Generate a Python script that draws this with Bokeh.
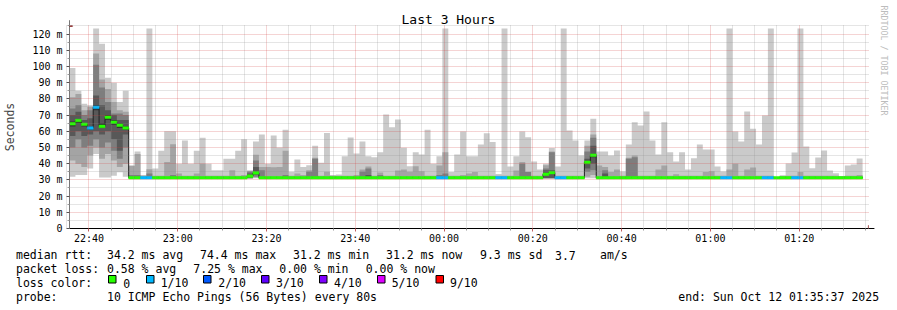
from datetime import datetime, timedelta
from bokeh.plotting import figure
from bokeh.models import ColumnDataSource, FixedTicker, Arrow, NormalHead, Range1d, Title
from bokeh.layouts import column
from bokeh.embed import file_html
from bokeh.resources import INLINE
from bokeh.core.properties import value

# ---------------- data ----------------
TITLE = "Last 3 Hours"
START = "2025-10-11 22:35:37"
STEP_SECONDS = 80
WATERMARK = "RRDTOOL / TOBI OETIKER"

x_tick_labels = ["22:40", "23:00", "23:20", "23:40", "00:00", "00:20", "00:40", "01:00", "01:20"]
y_tick_values = [0, 10, 20, 30, 40, 50, 60, 70, 80, 90, 100, 110, 120]
y_tick_labels = ["0", "10 m", "20 m", "30 m", "40 m", "50 m", "60 m", "70 m", "80 m", "90 m", "100 m", "110 m", "120 m"]

# sorted ping round-trip times (ms) per 80 s step, ping_1 = fastest, ping_10 = slowest
ping_10 = [99, 85, 77, 76, 123.4, 114, 93, 90, 78, 85,
           39, 47.5, 33, 123.4, 37, 48, 60, 60, 40, 54.3,
           40, 48, 56, 40, 36, 36, 43, 43, 48, 55,
           36, 53.7, 58, 40, 57.4, 50, 61, 35, 42.6, 38,
           39, 51, 40.5, 59, 33, 33.3, 44.6, 56.1, 46.2, 53.7,
           44.6, 44, 47.1, 70.3, 62.5, 67.3, 49.8, 38.4, 47.1, 45.6,
           61, 39.9, 44.6, 123.4, 34.8, 45.6, 59.8, 44.6, 44.6, 51.8,
           58.8, 53.3, 33.7, 123.4, 38.2, 44.6, 59.8, 56.3, 41.3, 36.4,
           40, 49.6, 38.2, 123.4, 60.5, 54.3, 45, 54.3, 67.7, 47.5,
           47.5, 45, 48.1, 35.2, 51.8, 65.6, 63.5, 72.2, 54.3, 45.6,
           65.6, 47.1, 41.3, 47.1, 36.4, 43.4, 51.8, 48.7, 48.7, 38.2,
           35.2, 123.4, 59.8, 53.7, 72.2, 61.5, 51.8, 69.7, 123.4, 31.8,
           32.7, 40.1, 46.9, 123.4, 50.6, 37.2, 43.8, 48.1, 35.8, 34.1,
           32.3, 38.9, 39.5, 43.2]
ping_9 = [81, 83, 73, 75, 108, 92, 86, 78, 73, 72,
          38.5, 46, 32.5, 36.5, 32.5, 32.5, 41, 52, 34, 32.5,
          32.5, 34, 40, 32.5, 32.5, 32.5, 32.5, 36, 32.5, 33,
          35.5, 45.5, 38, 38, 37.8, 38, 48, 32.5, 34, 33,
          36, 43.6, 32.5, 35, 32.5, 32.5, 32.5, 32.5, 33, 36.4,
          38.2, 32.5, 34.5, 32.5, 32.5, 35.8, 36.4, 35, 38.4, 35.4,
          32.5, 32.5, 38.9, 47.1, 32.5, 32.5, 33, 34, 34.8, 32.5,
          32.5, 32.5, 32.5, 32.5, 32.5, 35.8, 41, 35, 32.5, 32.5,
          39, 47.5, 32.5, 32.5, 32.5, 32.5, 32.5, 51, 58, 38.9,
          38, 34.8, 36.4, 32.5, 43.6, 45, 32.5, 32.5, 32.5, 36.4,
          38.9, 32.5, 33.5, 32.5, 32.5, 32.5, 32.5, 34.8, 35.4, 32.5,
          32.5, 36.4, 39.9, 32.5, 36.4, 37.6, 32.5, 32.5, 32.5, 31.7,
          32.5, 32.5, 32.5, 34.8, 32.5, 32.5, 32.5, 32.5, 32.5, 32.5,
          32.3, 32.5, 32.5, 33]
ping_8 = [74, 76, 70, 73, 101, 87, 78, 71, 71, 70,
          33, 33, 32, 34, 32, 32, 32, 33, 32, 32,
          32, 32, 32, 32, 32, 32, 32, 32, 32, 32,
          35, 42, 36, 32, 32, 32, 33, 32, 32, 32,
          35, 43, 32, 32, 32, 32, 32, 32, 32, 35,
          37, 32, 33, 32, 32, 32, 32, 32, 32, 32,
          32, 32, 33, 34, 32, 32, 32, 32, 32, 32,
          32, 32, 32, 32, 32, 32, 40, 34.8, 32, 32,
          37, 47, 32, 32, 32, 32, 32, 47.5, 56, 32,
          36, 32, 32, 32, 43, 44, 32, 32, 32, 32,
          32, 32, 32, 32, 32, 32, 32, 32, 32, 32,
          32, 32, 32, 32, 32, 32, 32, 32, 32, 31.6,
          32, 32, 32, 32, 32, 32, 32, 32, 32, 32,
          32, 32, 32, 32]
ping_7 = [70, 72, 67, 68, 82, 76, 73, 70, 67, 67,
          31.6, 31.6, 31.6, 31.6, 31.6, 31.6, 31.6, 31.6, 31.6, 31.6,
          31.6, 31.6, 31.6, 31.6, 31.6, 31.6, 31.6, 31.6, 31.6, 31.6,
          34, 38, 31.6, 31.6, 31.6, 31.6, 31.6, 31.6, 31.6, 31.6,
          31.6, 31.6, 31.6, 31.6, 31.6, 31.6, 31.6, 31.6, 31.6, 31.6,
          33, 31.6, 31.6, 31.6, 31.6, 31.6, 31.6, 31.6, 31.6, 31.6,
          31.6, 31.6, 31.6, 31.6, 31.6, 31.6, 31.6, 31.6, 31.6, 31.6,
          31.6, 31.6, 31.6, 31.6, 31.6, 31.6, 31.6, 31.6, 31.6, 31.6,
          36, 36, 31.6, 31.6, 31.6, 31.6, 31.6, 43, 51, 31.6,
          34, 31.6, 31.6, 31.6, 31.6, 31.6, 31.6, 31.6, 31.6, 31.6,
          31.6, 31.6, 31.6, 31.6, 31.6, 31.6, 31.6, 31.6, 31.6, 31.6,
          31.6, 31.6, 31.6, 31.6, 31.6, 31.6, 31.6, 31.6, 31.6, 31.6,
          31.6, 31.6, 31.6, 31.6, 31.6, 31.6, 31.6, 31.6, 31.6, 31.6,
          31.6, 31.6, 31.6, 31.6]
ping_6 = [66, 67, 65, 63, 76, 65, 70, 67, 65, 63,
          31.4, 31.4, 31.4, 31.4, 31.4, 31.4, 31.4, 31.4, 31.4, 31.4,
          31.4, 31.4, 31.4, 31.4, 31.4, 31.4, 31.4, 31.4, 31.4, 31.4,
          33, 35, 31.4, 31.4, 31.4, 31.4, 31.4, 31.4, 31.4, 31.4,
          31.4, 31.4, 31.4, 31.4, 31.4, 31.4, 31.4, 31.4, 31.4, 31.4,
          31.4, 31.4, 31.4, 31.4, 31.4, 31.4, 31.4, 31.4, 31.4, 31.4,
          31.4, 31.4, 31.4, 31.4, 31.4, 31.4, 31.4, 31.4, 31.4, 31.4,
          31.4, 31.4, 31.4, 31.4, 31.4, 31.4, 31.4, 31.4, 31.4, 31.4,
          34, 35, 31.4, 31.4, 31.4, 31.4, 31.4, 41, 46, 31.4,
          31.4, 31.4, 31.4, 31.4, 31.4, 31.4, 31.4, 31.4, 31.4, 31.4,
          31.4, 31.4, 31.4, 31.4, 31.4, 31.4, 31.4, 31.4, 31.4, 31.4,
          31.4, 31.4, 31.4, 31.4, 31.4, 31.4, 31.4, 31.4, 31.4, 31.4,
          31.4, 31.4, 31.4, 31.4, 31.4, 31.4, 31.4, 31.4, 31.4, 31.4,
          31.4, 31.4, 31.4, 31.4]
ping_5 = [63, 65, 63, 61, 73, 62, 67, 64, 62, 61,
          31.2, 31.2, 31.2, 31.2, 31.2, 31.2, 31.2, 31.2, 31.2, 31.2,
          31.2, 31.2, 31.2, 31.2, 31.2, 31.2, 31.2, 31.2, 31.2, 31.2,
          32.2, 34, 31.2, 31.2, 31.2, 31.2, 31.2, 31.2, 31.2, 31.2,
          31.2, 31.2, 31.2, 31.2, 31.2, 31.2, 31.2, 31.2, 31.2, 31.2,
          31.2, 31.2, 31.2, 31.2, 31.2, 31.2, 31.2, 31.2, 31.2, 31.2,
          31.2, 31.2, 31.2, 31.2, 31.2, 31.2, 31.2, 31.2, 31.2, 31.2,
          31.2, 31.2, 31.2, 31.2, 31.2, 31.2, 31.2, 31.2, 31.2, 31.2,
          33, 34, 31.2, 31.2, 31.2, 31.2, 31.2, 40, 44, 31.2,
          31.2, 31.2, 31.2, 31.2, 31.2, 31.2, 31.2, 31.2, 31.2, 31.2,
          31.2, 31.2, 31.2, 31.2, 31.2, 31.2, 31.2, 31.2, 31.2, 31.2,
          31.2, 31.2, 31.2, 31.2, 31.2, 31.2, 31.2, 31.2, 31.2, 31.2,
          31.2, 31.2, 31.2, 31.2, 31.2, 31.2, 31.2, 31.2, 31.2, 31.2,
          31.2, 31.2, 31.2, 31.2]
ping_4 = [57, 60, 57, 58, 60, 58, 60, 55, 48, 58,
          31.1, 31.1, 31.1, 31.1, 31.1, 31.1, 31.1, 31.1, 31.1, 31.1,
          31.1, 31.1, 31.1, 31.1, 31.1, 31.1, 31.1, 31.1, 31.1, 31.1,
          31.1, 33, 31.1, 31.1, 31.1, 31.1, 31.1, 31.1, 31.1, 31.1,
          31.1, 31.1, 31.1, 31.1, 31.1, 31.1, 31.1, 31.1, 31.1, 31.1,
          31.1, 31.1, 31.1, 31.1, 31.1, 31.1, 31.1, 31.1, 31.1, 31.1,
          31.1, 31.1, 31.1, 31.1, 31.1, 31.1, 31.1, 31.1, 31.1, 31.1,
          31.1, 31.1, 31.1, 31.1, 31.1, 31.1, 31.1, 31.1, 31.1, 31.1,
          31.1, 31.1, 31.1, 31.1, 31.1, 31.1, 31.1, 37, 40, 31.1,
          31.1, 31.1, 31.1, 31.1, 31.1, 31.1, 31.1, 31.1, 31.1, 31.1,
          31.1, 31.1, 31.1, 31.1, 31.1, 31.1, 31.1, 31.1, 31.1, 31.1,
          31.1, 31.1, 31.1, 31.1, 31.1, 31.1, 31.1, 31.1, 31.1, 31.1,
          31.1, 31.1, 31.1, 31.1, 31.1, 31.1, 31.1, 31.1, 31.1, 31.1,
          31.1, 31.1, 31.1, 31.1]
ping_3 = [50, 55, 50, 51, 55, 50, 53, 48, 43, 50,
          31.0, 31.0, 31.0, 31.0, 31.0, 31.0, 31.0, 31.0, 31.0, 31.0,
          31.0, 31.0, 31.0, 31.0, 31.0, 31.0, 31.0, 31.0, 31.0, 31.0,
          31.0, 32, 31.0, 31.0, 31.0, 31.0, 31.0, 31.0, 31.0, 31.0,
          31.0, 31.0, 31.0, 31.0, 31.0, 31.0, 31.0, 31.0, 31.0, 31.0,
          31.0, 31.0, 31.0, 31.0, 31.0, 31.0, 31.0, 31.0, 31.0, 31.0,
          31.0, 31.0, 31.0, 31.0, 31.0, 31.0, 31.0, 31.0, 31.0, 31.0,
          31.0, 31.0, 31.0, 31.0, 31.0, 31.0, 31.0, 31.0, 31.0, 31.0,
          31.0, 31.0, 31.0, 31.0, 31.0, 31.0, 31.0, 35, 36, 31.0,
          31.0, 31.0, 31.0, 31.0, 31.0, 31.0, 31.0, 31.0, 31.0, 31.0,
          31.0, 31.0, 31.0, 31.0, 31.0, 31.0, 31.0, 31.0, 31.0, 31.0,
          31.0, 31.0, 31.0, 31.0, 31.0, 31.0, 31.0, 31.0, 31.0, 31.0,
          31.0, 31.0, 31.0, 31.0, 31.0, 31.0, 31.0, 31.0, 31.0, 31.0,
          31.0, 31.0, 31.0, 31.0]
ping_2 = [42, 40, 38, 45, 50, 43, 46, 42, 38, 40,
          30.9, 30.9, 30.9, 30.9, 30.9, 30.9, 30.9, 30.9, 30.9, 30.9,
          30.9, 30.9, 30.9, 30.9, 30.9, 30.9, 30.9, 30.9, 30.9, 30.9,
          30.9, 31.5, 30.9, 30.9, 30.9, 30.9, 30.9, 30.9, 30.9, 30.9,
          30.9, 30.9, 30.9, 30.9, 30.9, 30.9, 30.9, 30.9, 30.9, 30.9,
          30.9, 30.9, 30.9, 30.9, 30.9, 30.9, 30.9, 30.9, 30.9, 30.9,
          30.9, 30.9, 30.9, 30.9, 30.9, 30.9, 30.9, 30.9, 30.9, 30.9,
          30.9, 30.9, 30.9, 30.9, 30.9, 30.9, 30.9, 30.9, 30.9, 30.9,
          30.9, 30.9, 30.9, 30.9, 30.9, 30.9, 30.9, 32, 33, 30.9,
          30.9, 30.9, 30.9, 30.9, 30.9, 30.9, 30.9, 30.9, 30.9, 30.9,
          30.9, 30.9, 30.9, 30.9, 30.9, 30.9, 30.9, 30.9, 30.9, 30.9,
          30.9, 30.9, 30.9, 30.9, 30.9, 30.9, 30.9, 30.9, 30.9, 30.9,
          30.9, 30.9, 30.9, 30.9, 30.9, 30.9, 30.9, 30.9, 30.9, 30.9,
          30.9, 30.9, 30.9, 30.9]
ping_1 = [32, 33, 33, 37, 46, 31.5, 31.5, 32.5, 34.7, 32,
          30.8, 30.8, 30.8, 30.8, 30.8, 30.8, 30.8, 30.8, 30.8, 30.8,
          30.8, 30.8, 30.8, 30.8, 30.8, 30.8, 30.8, 30.8, 30.8, 30.8,
          30.8, 31, 30.8, 30.8, 30.8, 30.8, 30.8, 30.8, 30.8, 30.8,
          30.8, 30.8, 30.8, 30.8, 30.8, 30.8, 30.8, 30.8, 30.8, 30.8,
          30.8, 30.8, 30.8, 30.8, 30.8, 30.8, 30.8, 30.8, 30.8, 30.8,
          30.8, 30.8, 30.8, 30.8, 30.8, 30.8, 30.8, 30.8, 30.8, 30.8,
          30.8, 30.8, 30.8, 30.8, 30.8, 30.8, 30.8, 30.8, 30.8, 30.8,
          30.8, 30.8, 30.8, 30.8, 30.8, 30.8, 30.8, 31, 31, 30.8,
          30.8, 30.8, 30.8, 30.8, 30.8, 30.8, 30.8, 30.8, 30.8, 30.8,
          30.8, 30.8, 30.8, 30.8, 30.8, 30.8, 30.8, 30.8, 30.8, 30.8,
          30.8, 30.8, 30.8, 30.8, 30.8, 30.8, 30.8, 30.8, 30.8, 30.8,
          30.8, 30.8, 30.8, 30.8, 30.8, 30.8, 30.8, 30.8, 30.8, 30.8,
          30.8, 30.8, 30.8, 30.8]
median_rtt = [64.6, 66.6, 64.3, 62, 74.8, 63, 68.6, 65.6, 63.7, 62,
              31.3, 31.3, 31.3, 31.3, 31.3, 31.3, 31.3, 31.3, 31.3, 31.3,
              31.3, 31.3, 31.3, 31.3, 31.3, 31.3, 31.3, 31.3, 31.3, 31.3,
              32.3, 34.3, 31.3, 31.3, 31.3, 31.3, 31.3, 31.3, 31.3, 31.3,
              31.3, 31.3, 31.3, 31.3, 31.3, 31.3, 31.3, 31.3, 31.3, 31.3,
              31.3, 31.3, 31.3, 31.3, 31.3, 31.3, 31.3, 31.3, 31.3, 31.3,
              31.3, 31.3, 31.3, 31.3, 31.3, 31.3, 31.3, 31.3, 31.3, 31.3,
              31.3, 31.3, 31.3, 31.3, 31.3, 31.3, 31.3, 31.3, 31.3, 31.3,
              33.5, 34.5, 31.3, 31.3, 31.3, 31.3, 31.3, 40.8, 45.2, 31.3,
              31.3, 31.3, 31.3, 31.3, 31.3, 31.3, 31.3, 31.3, 31.3, 31.3,
              31.3, 31.3, 31.3, 31.3, 31.3, 31.3, 31.3, 31.3, 31.3, 31.3,
              31.3, 31.3, 31.3, 31.3, 31.3, 31.3, 31.3, 31.3, 31.3, 31.3,
              31.3, 31.3, 31.3, 31.3, 31.3, 31.3, 31.3, 31.3, 31.3, 31.3,
              31.3, 31.3, 31.3, 31.3]
lost_pings = [0, 0, 0, 1, 1, 0, 0, 0, 0, 0,
              0, 0, 1, 1, 0, 0, 0, 0, 0, 0,
              0, 0, 0, 0, 0, 0, 0, 0, 0, 0,
              0, 0, 0, 0, 0, 0, 0, 0, 0, 0,
              0, 0, 0, 0, 0, 0, 0, 0, 0, 0,
              0, 0, 0, 0, 0, 0, 0, 0, 0, 0,
              0, 0, 1, 1, 0, 0, 0, 0, 0, 0,
              0, 0, 1, 1, 0, 0, 0, 0, 0, 0,
              0, 0, 1, 1, 0, 0, 0, 0, 0, 0,
              0, 0, 0, 0, 0, 0, 0, 0, 0, 0,
              0, 0, 0, 0, 0, 0, 0, 0, 0, 0,
              1, 1, 0, 0, 0, 0, 0, 1, 1, 0,
              0, 0, 1, 1, 0, 0, 0, 0, 0, 0,
              0, 0, 0, 0]

loss_levels = [0, 1, 2, 3, 4, 5, 9]
loss_labels = ["0", "1/10", "2/10", "3/10", "4/10", "5/10", "9/10"]
loss_colors = ["#26ff00", "#00b8ff", "#0059ff", "#5e00ff", "#7e00ff", "#dd00ff", "#ff0000"]
smoke_colors = ["#cacaca", "#a4a4a4", "#7e7e7e", "#585858", "#323232"]

stats_rtt = ["median rtt:", "34.2 ms avg", "74.4 ms max", "31.2 ms min", "31.2 ms now", "9.3 ms sd", "3.7", "am/s"]
stats_loss = ["packet loss:", "0.58 % avg", "7.25 % max", "0.00 % min", "0.00 % now"]
probe_text = ["probe:", "10 ICMP Echo Pings (56 Bytes) every 80s", "end: Sun Oct 12 01:35:37 2025"]

# ---------------- build ----------------
FONT = "DejaVu Sans Mono"
start = datetime.strptime(START, "%Y-%m-%d %H:%M:%S")
n = len(ping_10)
step_left = [i * STEP_SECONDS for i in range(n)]
step_right = [(i + 1) * STEP_SECONDS for i in range(n)]
edges = step_left + [step_right[-1]]


def tick_seconds(label):
    h, m = map(int, label.split(":"))
    t = start.replace(hour=h, minute=m, second=0)
    if t < start:
        t += timedelta(days=1)
    return int((t - start).total_seconds())


x_major = [tick_seconds(l) for l in x_tick_labels]
x_minor = [x_major[0] + 300 * k for k in range(-1, 37) if k % 4 != 0]
y_minor = [v + 5 for v in y_tick_values]

p = figure(width=897, height=246, x_range=Range1d(0, 10800), y_range=Range1d(0, 125.25),
           output_backend="svg", toolbar_location=None,
           min_border_left=67, min_border_right=29, min_border_top=25, min_border_bottom=18)
p.frame_align = False
p.outline_line_color = None
p.background_fill_color = "white"
p.border_fill_color = "white"

pings = [ping_1, ping_2, ping_3, ping_4, ping_5, ping_6, ping_7, ping_8, ping_9, ping_10]
for k in range(5):
    lo = pings[k]
    hi = pings[9 - k]
    p.varea_step(x=edges, y1=lo + [lo[-1]], y2=hi + [hi[-1]], step_mode="after",
                 fill_color=smoke_colors[k])

p.step(x=edges, y=median_rtt + [median_rtt[-1]], mode="after", line_color="#202020", line_width=1)


def loss_color(c):
    idx = 0
    for j, lv in enumerate(loss_levels):
        if c >= lv:
            idx = j
    return loss_colors[idx]


band = ColumnDataSource(dict(
    left=step_left, right=step_right,
    bottom=[m - 0.8 for m in median_rtt], top=[m + 0.8 for m in median_rtt],
    color=[loss_color(c) for c in lost_pings]))
p.quad(left="left", right="right", bottom="bottom", top="top", fill_color="color",
       line_color="color", line_width=0.5, source=band)

# axes
xt = FixedTicker(ticks=x_major, minor_ticks=x_minor)
yt = FixedTicker(ticks=y_tick_values, minor_ticks=y_minor)
p.xaxis.ticker = xt
p.yaxis.ticker = yt
p.xaxis.major_label_overrides = {x: l for x, l in zip(x_major, x_tick_labels)}
p.yaxis.major_label_overrides = {v: l for v, l in zip(y_tick_values, y_tick_labels)}
for ax in (p.xaxis[0], p.yaxis[0]):
    ax.major_label_text_font = FONT
    ax.major_label_text_font_size = "10px"
    ax.major_label_text_color = "black"
    ax.major_tick_in = 0
    ax.minor_tick_in = 0
    ax.major_tick_out = 3
    ax.minor_tick_out = 2
p.xaxis.axis_line_color = "#000000"
p.xaxis.major_tick_line_color = "#c06060"
p.xaxis.minor_tick_line_color = "#999999"
p.xaxis.major_label_standoff = 1
p.yaxis.axis_line_color = "#777777"
p.yaxis.major_tick_line_color = "#555555"
p.yaxis.minor_tick_line_color = "#999999"
p.yaxis.major_label_standoff = 4
p.yaxis.axis_label = "Seconds"
p.yaxis.axis_label_text_font = FONT
p.yaxis.axis_label_text_font_size = "11.5px"
p.yaxis.axis_label_text_font_style = "normal"
p.yaxis.axis_label_standoff = 12

p.xgrid.ticker = xt
p.ygrid.ticker = yt
for g in (p.xgrid[0], p.ygrid[0]):
    g.grid_line_color = "#d04040"
    g.grid_line_alpha = 0.45
    g.grid_line_dash = "1 1"
    g.minor_grid_line_color = "#8c8c8c"
    g.minor_grid_line_alpha = 0.45
    g.minor_grid_line_dash = "1 1"
    g.level = "overlay"

# axis arrows
p.add_layout(Arrow(end=NormalHead(size=6, fill_color="#7f1010", line_color="#7f1010"),
                   x_start=0, y_start=125.25, x_end=0, y_end=128.5, line_color="#777777"))
p.add_layout(Arrow(end=NormalHead(size=6, fill_color="#7f1010", line_color="#7f1010"),
                   x_start=10800, y_start=0, x_end=10880, y_end=0, line_color="#000000"))

# title and watermark
p.title.text = TITLE
p.title.align = "left"
p.title.offset = 332
p.title.standoff = -2
p.title.text_font = FONT
p.title.text_font_size = "13px"
p.title.text_font_style = "normal"
p.title.text_color = "black"
p.add_layout(Title(text=WATERMARK, align="left", vertical_align="top", standoff=17, offset=-20,
                   text_font=FONT, text_font_size="8.3px", text_font_style="normal",
                   text_color="#bcbcbc"), "right")

# ---------------- legend panel ----------------
lg = figure(width=897, height=64, x_range=Range1d(0, 897), y_range=Range1d(64, 0),
            output_backend="svg", toolbar_location=None, x_axis_type=None, y_axis_type=None,
            min_border_left=0, min_border_right=0, min_border_top=0, min_border_bottom=0)
lg.frame_align = False
lg.outline_line_color = None
lg.grid.visible = False
lg.background_fill_color = "white"
lg.border_fill_color = "white"

row_x_rtt = [15.5, 106.5, 199.5, 292.5, 385.5, 479.5, 554.5, 599.5]
row_x_loss = [15.5, 106.5, 192.8, 278.8, 365.2]
box_x = [108, 146, 203, 261, 319, 377, 435.5]
box_label_x = [122.8, 160.2, 217.8, 275.5, 333.5, 391.2, 449.5]
probe_x = [15.5, 106.5, 677.8]

row_y = [8.9, 22.9, 36.9, 50.8]
txt_x = row_x_rtt + row_x_loss + [15.5] + box_label_x + probe_x
txt_y = ([row_y[0]] * len(row_x_rtt) + [row_y[1]] * len(row_x_loss) + [row_y[2]]
         + [row_y[2]] * len(box_label_x) + [row_y[3]] * len(probe_x))
txt = stats_rtt + stats_loss + ["loss color:"] + loss_labels + probe_text
lg.text(x=txt_x, y=txt_y, text=txt, text_font=value(FONT), text_font_size="11.5px",
        text_baseline="alphabetic", text_color="black")
lg.quad(left=box_x, right=[b + 7.5 for b in box_x], top=[29.0] * len(box_x), bottom=[36.5] * len(box_x),
        fill_color=loss_colors, line_color="black", line_width=1)

layout = column(p, lg, spacing=0)
open("out.html", "w").write(file_html(layout, INLINE))
